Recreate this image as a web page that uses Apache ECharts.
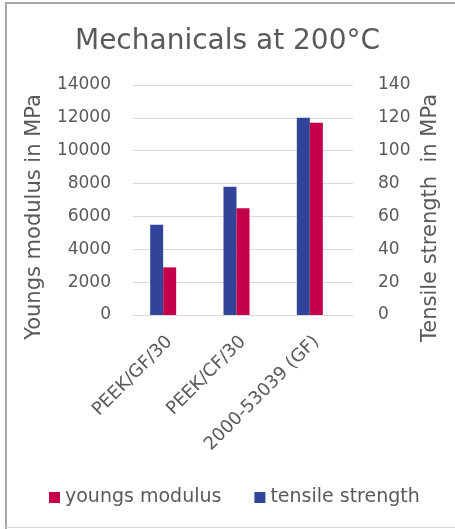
<!DOCTYPE html>
<html><head><meta charset="utf-8">
<script src="https://cdn.jsdelivr.net/npm/echarts@6/dist/echarts.min.js"></script>
<style>html,body{margin:0;padding:0;background:#fff}#c{width:455px;height:529px}</style>
</head><body><div id="c"></div>
<script>
const categories = ['PEEK/GF/30', 'PEEK/CF/30', '2000-53039 (GF)'];
const youngsModulus = [2900, 6500, 11700];
const tensileStrength = [55, 78, 120];
const leftTicks = {min: 0, max: 14000, interval: 2000};
const rightTicks = {min: 0, max: 140, interval: 20};

const FONT = 'DejaVu Sans';
const GRAY = '#595959';
const chart = echarts.init(document.getElementById('c'), null, {renderer: 'canvas'});
chart.setOption({
  animation: false,
  textStyle: {fontFamily: FONT},
  title: {
    text: 'Mechanicals at 200°C', left: 'center', top: 23,
    textStyle: {fontFamily: FONT, fontSize: 28, fontWeight: 'normal', color: GRAY}
  },
  legend: {
    data: ['youngs modulus', 'tensile strength'], bottom: 17, left: 44,
    icon: 'rect', itemWidth: 11, itemHeight: 11, itemGap: 33,
    textStyle: {fontFamily: FONT, fontSize: 19, color: GRAY}
  },
  grid: {left: 133, right: 102, top: 85, bottom: 214},
  xAxis: {
    type: 'category', data: categories,
    axisLine: {lineStyle: {color: '#d9d9d9'}}, axisTick: {show: false},
    axisLabel: {rotate: 45, fontSize: 18, color: GRAY, margin: 24, interval: 0}
  },
  yAxis: [
    {type: 'value', min: leftTicks.min, max: leftTicks.max, interval: leftTicks.interval,
     axisLine: {show: false}, axisTick: {show: false},
     splitLine: {lineStyle: {color: '#d9d9d9'}},
     axisLabel: {fontSize: 17, color: GRAY, margin: 22, formatter: v => String(v)}},
    {type: 'value', min: rightTicks.min, max: rightTicks.max, interval: rightTicks.interval,
     axisLine: {show: false}, axisTick: {show: false}, splitLine: {show: false},
     axisLabel: {fontSize: 17, color: GRAY, margin: 25, formatter: v => String(v)}}
  ],
  graphic: [
    {type: 'line', shape: {x1: 6, y1: 3, x2: 455, y2: 3},
     style: {stroke: '#a6a6a6', lineWidth: 2}, silent: true},
    {type: 'line', shape: {x1: 6, y1: 2, x2: 6, y2: 529},
     style: {stroke: '#a6a6a6', lineWidth: 2}, silent: true},
    {type: 'line', shape: {x1: 6, y1: 527.5, x2: 455, y2: 527.5},
     style: {stroke: '#d9d9d9', lineWidth: 1}, silent: true},
    {type: 'text', x: 35, y: 217, rotation: Math.PI / 2,
     style: {text: 'Youngs modulus in MPa', fill: GRAY, font: '21px ' + FONT,
             textAlign: 'center', textVerticalAlign: 'middle'}},
    {type: 'text', x: 431, y: 218, rotation: Math.PI / 2,
     style: {text: 'Tensile strength  in MPa', fill: GRAY, font: '21px ' + FONT,
             textAlign: 'center', textVerticalAlign: 'middle'}}
  ],
  series: [
    {name: 'tensile strength', type: 'bar', yAxisIndex: 1, data: tensileStrength,
     barWidth: 13, barGap: '0%', itemStyle: {color: '#32449a'}},
    {name: 'youngs modulus', type: 'bar', yAxisIndex: 0, data: youngsModulus,
     barWidth: 13, barGap: '0%', itemStyle: {color: '#c4004a'}},
    {name: 'spacer', type: 'bar', yAxisIndex: 0, data: [],
     barWidth: 13, barGap: '0%'}
  ]
});
</script></body></html>
